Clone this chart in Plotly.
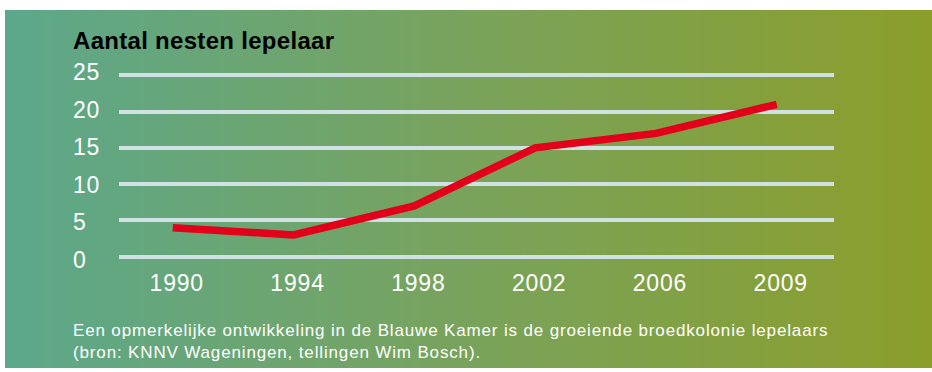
import plotly.graph_objects as go

# Data: number of spoonbill nests per count year
years = ["1990", "1994", "1998", "2002", "2006", "2009"]
nests = [4, 3, 7, 15, 17, 21]
y_ticks = [0, 5, 10, 15, 20, 25]

title_text = "Aantal nesten lepelaar"
caption_lines = [
    "Een opmerkelijke ontwikkeling in de Blauwe Kamer is de groeiende broedkolonie lepelaars",
    "(bron: KNNV Wageningen, tellingen Wim Bosch).",
]

W, H = 932, 372
ML, MR, MT, MB = 5, 0, 10, 4
PW, PH = W - ML - MR, H - MT - MB

FONT = "Liberation Sans, Arial, Helvetica, sans-serif"
RED = "#e2001a"
GRID = "#cfe1e3"


def spaced(s, ls):
    return '<span style="letter-spacing:%spx">%s</span>' % (ls, s)


# horizontal background gradient (teal -> olive)
stops = [(0.0, (92, 168, 140)), (0.5, (121, 163, 92)), (1.0, (139, 158, 42))]


def grad(t):
    for (t0, c0), (t1, c1) in zip(stops[:-1], stops[1:]):
        if t <= t1:
            f = (t - t0) / (t1 - t0)
            return tuple(round(a + (b - a) * f) for a, b in zip(c0, c1))
    return stops[-1][1]


N = 160
shapes = []
for i in range(N):
    c = grad((i + 0.5) / N)
    shapes.append(dict(type="rect", xref="paper", yref="paper",
                       x0=i / N, x1=(i + 1) / N + 0.002, y0=0, y1=1,
                       fillcolor="rgb(%d,%d,%d)" % c, line=dict(width=0),
                       layer="below"))


def px_x(p):
    return (p - ML) / PW


def px_y(p):
    return (H - MB - p) / PH


# main value axis (gridlines + line)
ymin, ymax = -0.5, 25.5
y_top_px, y_bot_px = 71.7, 260.3
ydom = [px_y(y_bot_px), px_y(y_top_px)]

# label axis (left-aligned value labels)
y2min, y2max = -3, 28
u2 = (259.7 - 72.0) / 25
y2dom = [px_y(259.7 - (y2min) * u2), px_y(72.0 - (y2max - 25) * u2)]

fig = go.Figure()
fig.add_trace(go.Scatter(
    x=years, y=nests, mode="lines",
    line=dict(color=RED, width=7.5),
    hoverinfo="x+y", showlegend=False,
))
# carrier trace so the label axis is rendered
fig.add_trace(go.Scatter(
    x=years, y=nests, yaxis="y2", mode="lines",
    line=dict(width=0), opacity=0, hoverinfo="skip", showlegend=False,
))

fig.update_layout(
    width=W, height=H,
    margin=dict(l=ML, r=MR, t=MT, b=MB, pad=0, autoexpand=False),
    paper_bgcolor="white", plot_bgcolor="rgba(0,0,0,0)",
    shapes=shapes,
    font=dict(family=FONT, color="white", size=23),
    xaxis=dict(
        type="category", domain=[px_x(119), px_x(834)],
        range=[-0.445, 5.474], showgrid=False, zeroline=False,
        showline=False, ticks="", tickfont=dict(size=23, color="white"),
        tickvals=years, ticktext=[spaced(y, 0.8) for y in years],
        ticklabelshift=4, ticklabelstandoff=7, fixedrange=True,
        automargin=False,
    ),
    yaxis=dict(
        domain=ydom, range=[ymin, ymax],
        tickvals=y_ticks, showticklabels=False, showgrid=True,
        gridcolor=GRID, gridwidth=4, zeroline=False, showline=False,
        ticks="", fixedrange=True, automargin=False,
    ),
    yaxis2=dict(
        anchor="free", position=px_x(69), side="left", domain=y2dom,
        range=[y2min, y2max], tickvals=y_ticks,
        ticktext=[spaced(str(v), 0.8) for v in y_ticks],
        ticklabelposition="inside",
        showgrid=False, zeroline=False, showline=False, ticks="",
        tickfont=dict(size=23, color="white"), fixedrange=True,
        automargin=False,
    ),
    title=dict(text="<b>" + spaced(title_text, 0.3) + "</b>",
               xref="container", yref="container",
               x=73 / W, xanchor="left", y=1 - 41 / H, yanchor="middle",
               font=dict(family=FONT, size=24, color="black")),
    annotations=[dict(
        text="<br>".join(spaced(s, 0.85) for s in caption_lines),
        xref="paper", yref="paper",
        x=px_x(71), xanchor="left", y=px_y(319), yanchor="top",
        showarrow=False, align="left",
        font=dict(family=FONT, size=17, color="white"),
    )],
)

fig.write_html("out.html")
